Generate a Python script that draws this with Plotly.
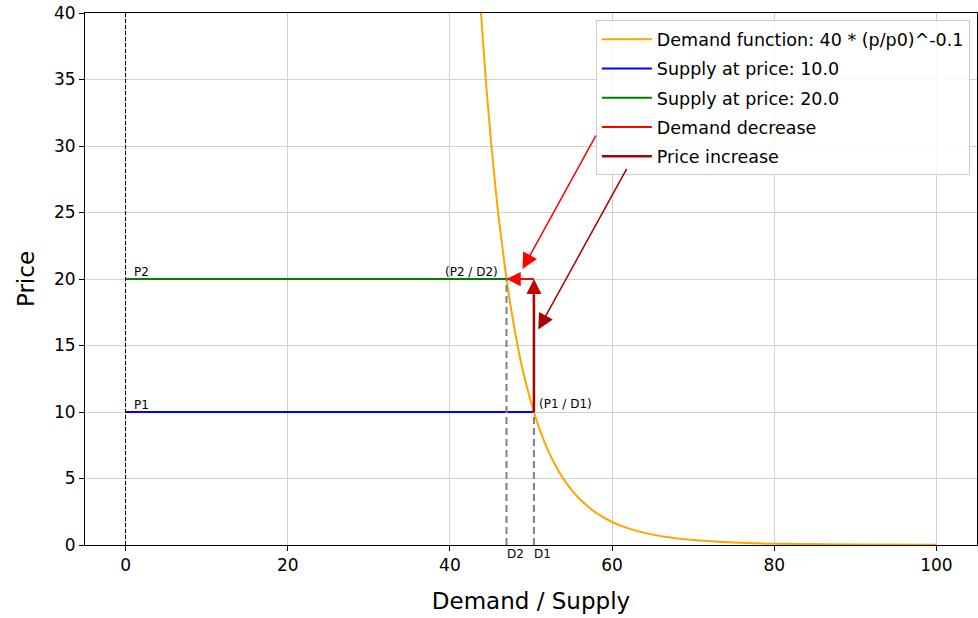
import plotly.graph_objects as go

# Demand curve points (demand quantity, price)
demand_x = [43.84, 44.0, 44.5, 45.0, 45.5, 46.0, 46.98, 47.0, 48.0, 49.0, 50.36, 51.0, 52.0, 53.0, 54.0,
            55.0, 56.0, 58.0, 60.0, 62.0, 65.0, 70.0, 75.0, 80.0, 90.0, 100.0]
demand_p = [40.0, 38.55, 34.4, 30.8, 27.6, 24.7, 20.0, 19.9, 16.15, 13.1, 10.0, 8.8, 7.25, 6.0, 4.97,
            4.14, 3.46, 2.43, 1.73, 1.25, 0.78, 0.37, 0.19, 0.10, 0.03, 0.01]

price_levels = [10.0, 20.0]
price_labels = ["P1", "P2"]
demand_levels = [50.36, 46.98]   # D1, D2
demand_labels = ["D1", "D2"]
point_labels = ["(P1 / D1)", "(P2 / D2)"]

FONT = "DejaVu Sans"
RED = "red"
DARKRED = "#a80000"

fig = go.Figure()

fig.add_trace(go.Scatter(x=demand_x, y=demand_p, mode="lines", line=dict(color="orange", width=2, shape="spline"),
                         name="Demand function: 40 * (p/p0)^-0.1", legendgroup="a"))
fig.add_trace(go.Scatter(x=[0, demand_levels[0]], y=[price_levels[0]] * 2, mode="lines",
                         line=dict(color="blue", width=2), name="Supply at price: 10.0", legendgroup="b"))
fig.add_trace(go.Scatter(x=[0, demand_levels[1]], y=[price_levels[1]] * 2, mode="lines",
                         line=dict(color="green", width=2), name="Supply at price: 20.0", legendgroup="c"))
fig.add_trace(go.Scatter(x=[demand_levels[0], demand_levels[1]], y=[price_levels[1]] * 2, mode="lines",
                         line=dict(color=RED, width=2), name="Demand decrease", legendgroup="d"))
fig.add_trace(go.Scatter(x=[demand_levels[0], demand_levels[0]], y=[price_levels[0], price_levels[1] - 1.2],
                         mode="lines", line=dict(color=DARKRED, width=2.5), name="Price increase", legendgroup="e"))

# dashed guide lines
fig.add_trace(go.Scatter(x=[0, 0], y=[0, 40], mode="lines", line=dict(color="black", width=1, dash="4px,2px"),
                         showlegend=False, hoverinfo="skip"))
for d, p in zip(demand_levels, price_levels):
    fig.add_trace(go.Scatter(x=[d, d], y=[0, p], mode="lines", line=dict(color="gray", width=2, dash="7px,4px"),
                             showlegend=False, hoverinfo="skip"))

ann = []
# arrowheads on short arrows
ann.append(dict(x=demand_levels[1], y=price_levels[1], ax=demand_levels[0] - 1.5, ay=price_levels[1],
                xref="x", yref="y", axref="x", ayref="y", showarrow=True, arrowhead=2, arrowsize=1.9,
                arrowwidth=1.5, arrowcolor=RED, standoff=0, text=""))
ann.append(dict(x=demand_levels[0], y=price_levels[1], ax=demand_levels[0], ay=price_levels[1] - 2,
                xref="x", yref="y", axref="x", ayref="y", showarrow=True, arrowhead=2, arrowsize=1.5,
                arrowwidth=2, arrowcolor="#c00000", standoff=0, text=""))
# long arrows from legend
ann.append(dict(x=48.95, y=20.75, ax=58.1, ay=30.9, xref="x", yref="y", axref="x", ayref="y",
                showarrow=True, arrowhead=2, arrowsize=2.1, arrowwidth=1.5, arrowcolor=RED, standoff=0, text=""))
ann.append(dict(x=50.9, y=16.2, ax=61.9, ay=28.4, xref="x", yref="y", axref="x", ayref="y",
                showarrow=True, arrowhead=2, arrowsize=2.1, arrowwidth=1.5, arrowcolor=DARKRED, standoff=0, text=""))

# text labels
small = dict(size=12, color="black", family=FONT)
for p, lab in zip(price_levels, price_labels):
    ann.append(dict(x=0.8, y=p, text=lab, xref="x", yref="y", showarrow=False, xanchor="left", yanchor="bottom",
                    font=small, yshift=-2))
ann.append(dict(x=demand_levels[0] + 0.4, y=price_levels[0], text=point_labels[0], xref="x", yref="y",
                showarrow=False, xanchor="left", yanchor="bottom", font=small, yshift=-1))
ann.append(dict(x=demand_levels[1] - 0.8, y=price_levels[1], text=point_labels[1], xref="x", yref="y",
                showarrow=False, xanchor="right", yanchor="bottom", font=small, yshift=-2))
for d, lab in zip(demand_levels, demand_labels):
    ann.append(dict(x=d, y=0, text=lab, xref="x", yref="y", showarrow=False, xanchor="left", yanchor="top",
                    font=small, yshift=0, xshift=-2))

fig.update_layout(
    width=978, height=618,
    margin=dict(l=85, r=1, t=13, b=73),
    plot_bgcolor="white", paper_bgcolor="white",
    font=dict(family=FONT, color="black"),
    annotations=ann,
    legend=dict(x=0.992, y=0.986, xanchor="right", yanchor="top", bgcolor="rgba(255,255,255,0.85)",
                bordercolor="#cccccc", borderwidth=1, font=dict(size=17.5, family=FONT), tracegroupgap=3.5,
                itemwidth=50),
    showlegend=True,
)
fig.update_xaxes(range=[-5, 105], tickvals=[0, 20, 40, 60, 80, 100], showgrid=True, gridcolor="#d0d0d0",
                 zeroline=False, showline=True, linecolor="black", linewidth=1, mirror=True,
                 ticks="outside", ticklen=5, tickcolor="black", tickfont=dict(size=17),
                 title=dict(text="Demand / Supply", font=dict(size=23), standoff=18))
fig.update_yaxes(range=[0, 40], tickvals=list(range(0, 45, 5)), showgrid=True, gridcolor="#d0d0d0",
                 zeroline=False, showline=True, linecolor="black", linewidth=1, mirror=True,
                 ticks="outside", ticklen=5, tickcolor="black", tickfont=dict(size=17),
                 title=dict(text="Price", font=dict(size=23), standoff=12))

fig.write_html("out.html", config={"displayModeBar": False},
               post_script="document.body.style.margin='0';")
